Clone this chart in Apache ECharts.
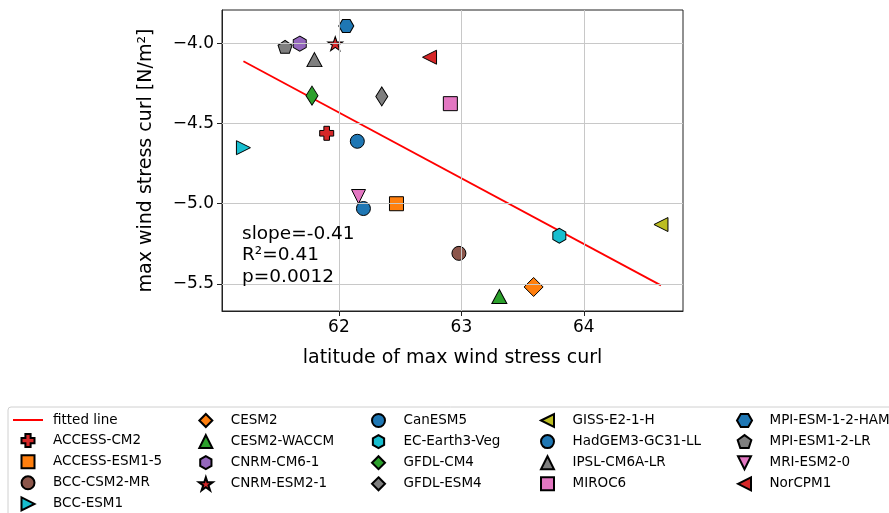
<!DOCTYPE html>
<html>
<head>
<meta charset="utf-8">
<script src="https://cdn.jsdelivr.net/npm/echarts@6/dist/echarts.min.js"></script>
<style>
  html, body { margin: 0; padding: 0; background: #fff; }
  #chart { width: 889px; height: 513px; }
</style>
</head>
<body>
<div id="chart"></div>
<script>
  // model names, in legend order
  var models = ['ACCESS-CM2', 'ACCESS-ESM1-5', 'BCC-CSM2-MR', 'BCC-ESM1', 'CESM2',
    'CESM2-WACCM', 'CNRM-CM6-1', 'CNRM-ESM2-1', 'CanESM5', 'EC-Earth3-Veg',
    'GFDL-CM4', 'GFDL-ESM4', 'GISS-E2-1-H', 'HadGEM3-GC31-LL', 'IPSL-CM6A-LR',
    'MIROC6', 'MPI-ESM-1-2-HAM', 'MPI-ESM1-2-LR', 'MRI-ESM2-0', 'NorCPM1']
  // latitude of max wind stress curl
  var latVals = [61.90, 62.47, 62.98, 61.22, 63.59,
    63.31, 61.68, 61.97, 62.20, 63.80,
    61.78, 62.35, 64.63, 62.15, 61.80,
    62.91, 62.06, 61.56, 62.16, 62.74]
  // max wind stress curl
  var curlVals = [-4.56, -5.00, -5.31, -4.65, -5.52,
    -5.58, -4.00, -4.00, -5.03, -5.20,
    -4.325, -4.33, -5.13, -4.61, -4.10,
    -4.375, -3.89, -4.02, -4.955, -4.085]
  // fitted line end points
  var fitX = [61.22, 64.63]
  var fitY = [-4.11, -5.51]
  var xTicks = [62, 63, 64]
  var yTicks = [-5.5, -5.0, -4.5, -4.0]

  // polygon / star marker paths
  function polyPath (n, inner, startDeg) {
    var pts = []
    var count = inner ? n * 2 : n
    for (var i = 0; i < count; i++) {
      var r = (inner && i % 2) ? inner : 1
      var a = (startDeg + i * 360 / count) * Math.PI / 180
      pts.push((r * Math.cos(a) * 50).toFixed(2) + ',' + (-r * Math.sin(a) * 50).toFixed(2))
    }
    return 'path://M' + pts.join(' L') + ' Z'
  }
  var plusPath = 'path://M3,0 L7,0 L7,3 L10,3 L10,7 L7,7 L7,10 L3,10 L3,7 L0,7 L0,3 L3,3 Z'
  var rectPath = 'path://M0,0 L10,0 L10,10 L0,10 Z'
  var diamondPath = 'path://M5,0 L10,5 L5,10 L0,5 Z'
  var triUp = 'path://M5,0 L10,10 L0,10 Z'
  var triDown = 'path://M0,0 L10,0 L5,10 Z'
  var triLeft = 'path://M0,5 L10,0 L10,10 Z'
  var triRight = 'path://M0,0 L10,5 L0,10 Z'
  var hexPointy = polyPath(6, 0, 90)
  var hexFlat = polyPath(6, 0, 0)
  var pentagon = polyPath(5, 0, 90)
  var star = polyPath(5, 0.382, 90)
  var lineIcon = 'path://M0,0 L30,0 L30,2 L0,2 Z'

  var blue = '#1f77b4', orange = '#ff7f0e', green = '#2ca02c', red = '#d62728',
    purple = '#9467bd', brown = '#8c564b', pink = '#e377c2', gray = '#7f7f7f',
    olive = '#bcbd22', cyan = '#17becf'

  // marker style per model: [symbol, size, color]
  var markerStyle = {
    'ACCESS-CM2': [plusPath, [14, 14], red],
    'ACCESS-ESM1-5': [rectPath, [14, 14], orange],
    'BCC-CSM2-MR': ['circle', 14, brown],
    'BCC-ESM1': [triRight, [14, 14], cyan],
    'CESM2': [diamondPath, [19, 19], orange],
    'CESM2-WACCM': [triUp, [15, 14], green],
    'CNRM-CM6-1': [hexPointy, [13, 15], purple],
    'CNRM-ESM2-1': [star, [15, 14], red],
    'CanESM5': ['circle', 14, blue],
    'EC-Earth3-Veg': [hexPointy, [13, 15], cyan],
    'GFDL-CM4': [diamondPath, [12, 19], green],
    'GFDL-ESM4': [diamondPath, [12, 19], gray],
    'GISS-E2-1-H': [triLeft, [14, 14], olive],
    'HadGEM3-GC31-LL': ['circle', 14, blue],
    'IPSL-CM6A-LR': [triUp, [15, 14], gray],
    'MIROC6': [rectPath, [14, 14], pink],
    'MPI-ESM-1-2-HAM': [hexFlat, [15, 13], blue],
    'MPI-ESM1-2-LR': [pentagon, [14, 13], gray],
    'MRI-ESM2-0': [triDown, [14, 14], pink],
    'NorCPM1': [triLeft, [14, 14], red]
  }

  var font = 'DejaVu Sans'
  var gridColor = '#c8c8c8'

  var series = [{
    // grid lines drawn through the axes' own scales
    name: 'grid',
    type: 'scatter',
    data: [],
    silent: true,
    z: 1,
    markLine: {
      silent: true,
      symbol: ['none', 'none'],
      label: { show: false },
      lineStyle: { color: gridColor, width: 1, type: 'solid' },
      animation: false,
      data: xTicks.map(function (v) { return { xAxis: v } })
        .concat(yTicks.map(function (v) { return { yAxis: v } }))
    }
  }, {
    name: 'fitted line',
    type: 'line',
    data: fitX.map(function (x, i) { return [x, fitY[i]] }),
    symbol: 'none',
    lineStyle: { color: '#ff0000', width: 1.8 },
    itemStyle: { color: '#ff0000' },
    z: 2
  }]

  models.forEach(function (m, i) {
    var st = markerStyle[m]
    series.push({
      name: m,
      type: 'scatter',
      data: [[latVals[i], curlVals[i]]],
      symbol: st[0],
      symbolSize: st[1],
      itemStyle: { color: st[2], borderColor: '#000', borderWidth: 1, opacity: 1 },
      z: 3
    })
  })

  var legendCols = [
    [{ name: 'fitted line', icon: lineIcon, itemStyle: { color: '#ff0000', borderWidth: 0 } },
      'ACCESS-CM2', 'ACCESS-ESM1-5', 'BCC-CSM2-MR', 'BCC-ESM1'],
    ['CESM2', 'CESM2-WACCM', 'CNRM-CM6-1', 'CNRM-ESM2-1'],
    ['CanESM5', 'EC-Earth3-Veg', 'GFDL-CM4', 'GFDL-ESM4'],
    ['GISS-E2-1-H', 'HadGEM3-GC31-LL', 'IPSL-CM6A-LR', 'MIROC6'],
    ['MPI-ESM-1-2-HAM', 'MPI-ESM1-2-LR', 'MRI-ESM2-0', 'NorCPM1']
  ]
  var legendLeft = [13, 198, 371, 540, 736]
  var legends = legendCols.map(function (col, i) {
    return {
      orient: 'vertical',
      left: legendLeft[i],
      top: 413,
      height: 130,
      padding: 0,
      itemWidth: 30,
      itemHeight: 13,
      itemGap: 6.1,
      selectedMode: false,
      z: 10,
      textStyle: { fontFamily: font, fontSize: 13.5, color: '#000', padding: [0, 0, 0, 5] },
      data: col
    }
  })

  var chart = echarts.init(document.getElementById('chart'))
  chart.setOption({
    animation: false,
    backgroundColor: '#fff',
    grid: {
      left: 222, right: 206, top: 10, bottom: 202,
      show: true, borderColor: '#222', borderWidth: 1
    },
    xAxis: {
      type: 'value',
      min: 61.045,
      max: 64.81,
      name: 'latitude of max wind stress curl',
      nameLocation: 'middle',
      nameGap: 38,
      nameTextStyle: { fontFamily: font, fontSize: 19, color: '#000' },
      axisLine: { show: true, lineStyle: { color: '#222', width: 1 } },
      axisTick: { show: true, length: 5, customValues: xTicks, lineStyle: { color: '#222' } },
      axisLabel: {
        customValues: xTicks, margin: 8,
        fontFamily: font, fontSize: 17, color: '#000',
        formatter: function (v) { return String(v) }
      },
      splitLine: { show: false }
    },
    yAxis: {
      type: 'value',
      min: -5.67,
      max: -3.79,
      name: 'max wind stress curl [N/m²]',
      nameLocation: 'middle',
      nameGap: 66,
      nameTextStyle: { fontFamily: font, fontSize: 19, color: '#000' },
      axisLine: { show: true, lineStyle: { color: '#222', width: 1 } },
      axisTick: { show: true, length: 5, customValues: yTicks, lineStyle: { color: '#222' } },
      axisLabel: {
        customValues: yTicks, margin: 8,
        fontFamily: font, fontSize: 17, color: '#000',
        formatter: function (v) { return v.toFixed(1).replace('-', '\u2212') }
      },
      splitLine: { show: false }
    },
    legend: legends,
    graphic: [{
      type: 'rect',
      z: -10,
      shape: { x: 8, y: 407, width: 900, height: 130, r: 3 },
      style: { fill: '#fff', stroke: '#d0d0d0', lineWidth: 1 }
    }, {
      type: 'text',
      left: 242,
      top: 223,
      z: 100,
      style: {
        text: 'slope=-0.41\nR²=0.41\np=0.0012',
        font: '18.5px "DejaVu Sans"',
        lineHeight: 21.7,
        fill: '#000'
      }
    }],
    series: series
  })
</script>
</body>
</html>
